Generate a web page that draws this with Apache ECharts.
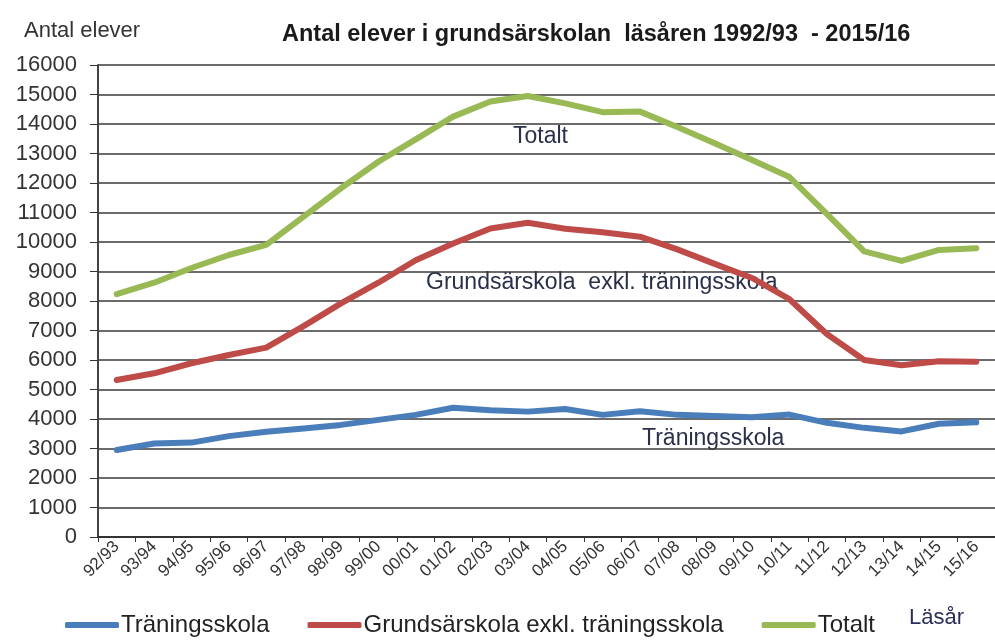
<!DOCTYPE html>
<html>
<head>
<meta charset="utf-8">
<script src="https://cdn.jsdelivr.net/npm/echarts@6/dist/echarts.min.js"></script>
<style>
html,body{margin:0;padding:0;background:#fff;}
#chart{width:995px;height:642px;}
</style>
</head>
<body>
<div id="chart"></div>
<script>
const categories = ['92/93','93/94','94/95','95/96','96/97','97/98','98/99','99/00','00/01','01/02','02/03','03/04','04/05','05/06','06/07','07/08','08/09','09/10','10/11','11/12','12/13','13/14','14/15','15/16'];
const traningsskola = [2950,3170,3200,3420,3570,3680,3800,3970,4140,4380,4300,4250,4340,4140,4260,4140,4100,4060,4150,3870,3700,3580,3840,3890];
const grundsarskola = [5320,5550,5890,6170,6420,7150,7920,8620,9380,9950,10460,10650,10450,10330,10180,9750,9260,8780,8060,6880,6000,5820,5960,5940];
const totalt = [8230,8620,9120,9560,9900,10860,11820,12720,13480,14250,14760,14950,14700,14400,14420,13900,13350,12780,12200,10950,9680,9360,9730,9790];
const yTicks = {min:0, max:16000, interval:1000};
const seriesNames = ['Träningsskola','Grundsärskola exkl. träningsskola','Totalt'];
const colors = ['#4a7ebb','#be4b48','#98b954'];

const chart = echarts.init(document.getElementById('chart'));
const font = 'Liberation Sans, Arial, sans-serif';
chart.setOption({
  animation:false,
  backgroundColor:'#fff',
  title:[
    {text:'Antal elever i grundsärskolan  läsåren 1992/93  - 2015/16', left:277, top:18,
     textStyle:{fontFamily:font, fontSize:23.5, fontWeight:'bold', color:'#1a1a1a'}},
    {text:'Antal elever', left:19, top:15,
     textStyle:{fontFamily:font, fontSize:22, fontWeight:'normal', color:'#333'}},
    {text:'Läsår', left:904, top:602,
     textStyle:{fontFamily:font, fontSize:22, fontWeight:'normal', color:'#2a2f5a'}}
  ],
  grid:{left:98, top:65, width:908, height:472, containLabel:false},
  legend:{
    bottom:0, left:60, itemGap:38, itemWidth:54, itemHeight:6,
    icon:'roundRect',
    textStyle:{fontFamily:font, fontSize:24, color:'#222', padding:[0,0,0,-3]},
    data:seriesNames
  },
  xAxis:{
    type:'category', data:categories, boundaryGap:true,
    axisLine:{lineStyle:{color:'#333', width:2}},
    axisTick:{show:true, length:5, alignWithLabel:false, lineStyle:{color:'#333'}},
    axisLabel:{rotate:45, fontFamily:font, fontSize:17, color:'#333', margin:7, interval:0}
  },
  yAxis:{
    type:'value', min:yTicks.min, max:yTicks.max, interval:yTicks.interval,
    axisLine:{show:true, lineStyle:{color:'#444', width:2}},
    axisTick:{show:true, length:8, inside:false, lineStyle:{color:'#333'}},
    axisLabel:{fontFamily:font, fontSize:22, color:'#333', margin:21, formatter:(v)=>String(v)},
    splitLine:{lineStyle:{color:'#3a3a3a', width:1.5}}
  },
  series:[
    {name:seriesNames[0], type:'line', data:traningsskola, color:colors[0], showSymbol:false, symbol:'none',
     lineStyle:{width:6, cap:'round', join:'round'}},
    {name:seriesNames[1], type:'line', data:grundsarskola, color:colors[1], showSymbol:false, symbol:'none',
     lineStyle:{width:6, cap:'round', join:'round'}},
    {name:seriesNames[2], type:'line', data:totalt, color:colors[2], showSymbol:false, symbol:'none',
     lineStyle:{width:6, cap:'round', join:'round'}}
  ],
  graphic:[
    {type:'text', left:513, top:125, style:{text:'Totalt', font:'23px '+font, fill:'#2a2f4a'}},
    {type:'text', left:426, top:271, style:{text:'Grundsärskola  exkl. träningsskola', font:'23px '+font, fill:'#2a2f4a'}},
    {type:'text', left:642, top:427, style:{text:'Träningsskola', font:'23px '+font, fill:'#2a2f4a'}}
  ]
});
</script>
</body>
</html>
